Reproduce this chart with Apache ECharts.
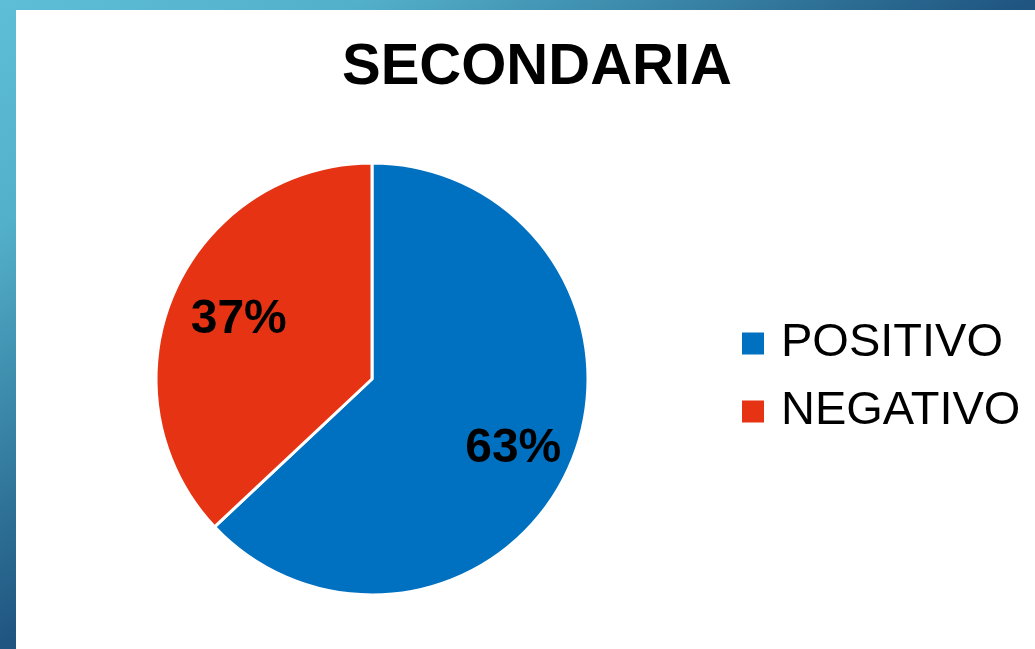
<!DOCTYPE html>
<html>
<head>
<meta charset="utf-8">
<script src="https://cdn.jsdelivr.net/npm/echarts@6/dist/echarts.min.js"></script>
<style>
  html, body { margin: 0; padding: 0; }
  #chart { width: 1035px; height: 649px; }
</style>
</head>
<body>
<div id="chart"></div>
<script>
const titleText = 'SECONDARIA';
const categories = ['POSITIVO', 'NEGATIVO'];
const values = [63, 37];
const colors = ['#0070c0', '#e53313'];
// small nudges so the in-slice labels sit where the original put them
const labelOffsets = [[-1, 8], [9, 2]];

const font = '"Liberation Sans", Arial, sans-serif';
const pieData = categories.map((name, i) => ({ name, value: values[i] }));
const labelData = categories.map((name, i) => ({
  name,
  value: values[i],
  label: { offset: labelOffsets[i] },
}));

const chart = echarts.init(document.getElementById('chart'));

chart.setOption({
  animation: false,
  backgroundColor: {
    type: 'linear',
    global: true,
    x: 0, y: 0, x2: 292, y2: 466,
    colorStops: [
      { offset: 0, color: '#5ebed7' },
      { offset: 0.35, color: '#53b0ca' },
      { offset: 0.6, color: '#3e8dae' },
      { offset: 0.8, color: '#2e7096' },
      { offset: 1, color: '#1f5580' },
    ],
  },
  graphic: [{
    type: 'rect',
    shape: { x: 16, y: 10, width: 1019, height: 639 },
    style: { fill: '#ffffff' },
    z: -1,
  }],
  title: {
    text: titleText,
    left: 337,
    top: 34,
    textStyle: {
      fontFamily: font,
      fontSize: 58,
      fontWeight: 'bold',
      color: '#000',
    },
  },
  legend: {
    data: categories,
    orient: 'vertical',
    left: 735,
    top: 315,
    itemWidth: 24,
    itemHeight: 24,
    itemGap: 21,
    icon: 'rect',
    selectedMode: false,
    textStyle: {
      fontFamily: font,
      fontSize: 47,
      color: '#000',
      padding: [0, 0, 0, 11],
    },
  },
  series: [
    {
      type: 'pie',
      center: [372, 379],
      radius: [0, 216],
      startAngle: 90,
      clockwise: true,
      silent: true,
      color: colors,
      itemStyle: { borderColor: '#ffffff', borderWidth: 3 },
      label: { show: false },
      labelLine: { show: false },
      data: pieData,
    },
    {
      type: 'pie',
      center: [372, 379],
      radius: [88, 216],
      startAngle: 90,
      clockwise: true,
      silent: true,
      itemStyle: { color: 'rgba(0,0,0,0)' },
      label: {
        show: true,
        position: 'inside',
        formatter: '{d}%',
        fontFamily: font,
        fontSize: 48,
        fontWeight: 'bold',
        color: '#000',
      },
      labelLine: { show: false },
      data: labelData,
    },
  ],
});
</script>
</body>
</html>
